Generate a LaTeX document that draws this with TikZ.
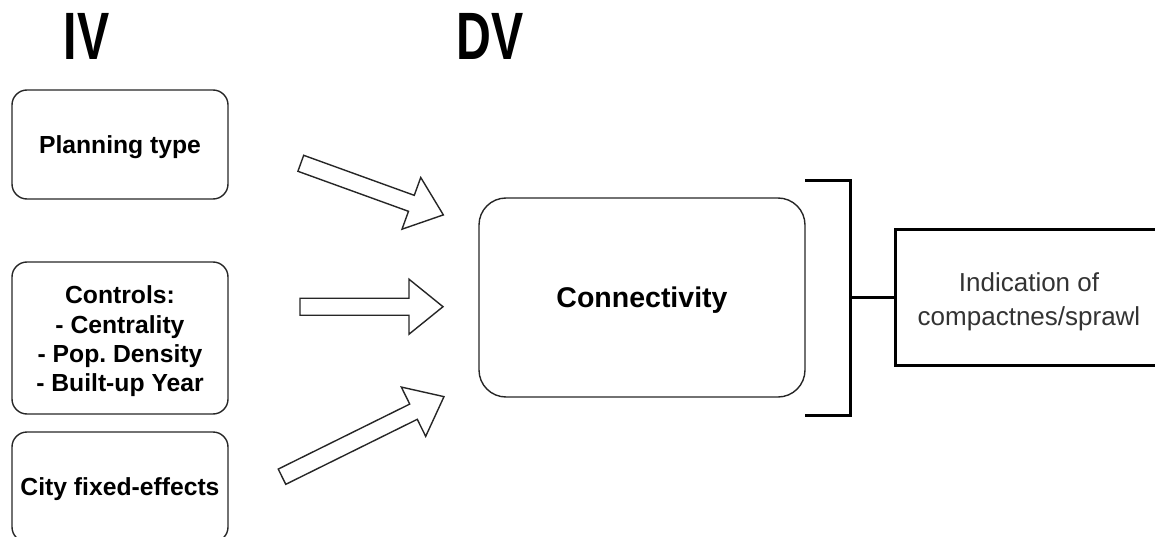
\documentclass[tikz,border=0pt]{standalone}
\usepackage{fontspec}
\setmainfont{Liberation Sans}
\frenchspacing
\begin{document}
\begin{tikzpicture}[x=1pt,y=-1pt,
  ivfont/.style={font=\fontsize{24.7}{29.3}\selectfont\bfseries},
  ivbox/.style={draw=black!85, line width=1.4pt, rounded corners=15pt,
    minimum width=216pt, inner sep=0pt, align=center, ivfont,
    text height=17.7pt, text depth=0pt},
  dvbox/.style={draw=black!85, line width=1.4pt, rounded corners=27pt,
    minimum width=326pt, minimum height=199pt, inner sep=0pt,
    font=\fontsize{28.5}{33}\selectfont\bfseries,
    text height=20.4pt, text depth=0pt},
  outbox/.style={draw=black, line width=3pt, minimum width=268pt,
    minimum height=135pt, inner sep=0pt},
  outtext/.style={inner sep=0pt, align=center, text=black!80,
    font=\fontsize{26}{34}\selectfont},
  plaintext/.style={inner sep=0pt, align=center},
  heading/.style={inner sep=0pt, font=\fontsize{67}{67}\selectfont\bfseries},
  bracketline/.style={draw=black, line width=3pt},
  arrowline/.style={draw=black!85, line width=1.4pt, fill=white, line join=miter},
  pics/blockarrow/.style={code={
    \path[arrowline] (0,-8.5) -- (#1-34,-8.5) -- (#1-34,-27.5) -- (#1,0)
      -- (#1-34,27.5) -- (#1-34,8.5) -- (0,8.5) -- cycle;}}
]
\useasboundingbox (0,0) rectangle (1155,537);
\clip (0,0) rectangle (1155,537);

% column headings
\node[heading] (iv) at (86.5,36) {\scalebox{0.72}[1]{IV}};
\node[heading] (dv) at (490,36) {\scalebox{0.72}[1]{DV}};

% independent variables
\node[ivbox, minimum height=109pt] (plan) at (120,144.5) {Planning type};
\node[ivbox, minimum height=152pt] (ctrl) at (120,338) {};
\node[plaintext, ivfont] (ctrltext) at (120,341.5)
  {Controls:\\- Centrality\\- Pop. Density\\- Built-up Year};
\node[ivbox, minimum height=110pt] (city) at (120,487) {City fixed-effects};

% dependent variable
\node[dvbox] (conn) at (642,297.5) {Connectivity};

% outcome box
\node[outbox] (ind) at (1029,297.5) {};
\node[outtext] (indtext) at (1029,302) {Indication of\\compactnes/sprawl};

% block arrows into the dependent variable
\coordinate (a1) at (300.8,163.3);
\coordinate (a2) at (300,306.7);
\coordinate (a3) at (282,476.7);
\pic[rotate=-19.9] at (a1) {blockarrow=151.6};
\pic at (a2) {blockarrow=143};
\pic[rotate=26.3] at (a3) {blockarrow=180.7};

% bracket joining the dependent variable to its interpretation
\coordinate (bt) at (805,181);
\coordinate (bb) at (805,415);
\coordinate (bm) at (850,297.5);
\draw[bracketline, line join=miter] (bt) -- (850,181) -- (850,415) -- (bb);
\draw[bracketline] (bm) -- (ind.west);
\end{tikzpicture}
\end{document}
